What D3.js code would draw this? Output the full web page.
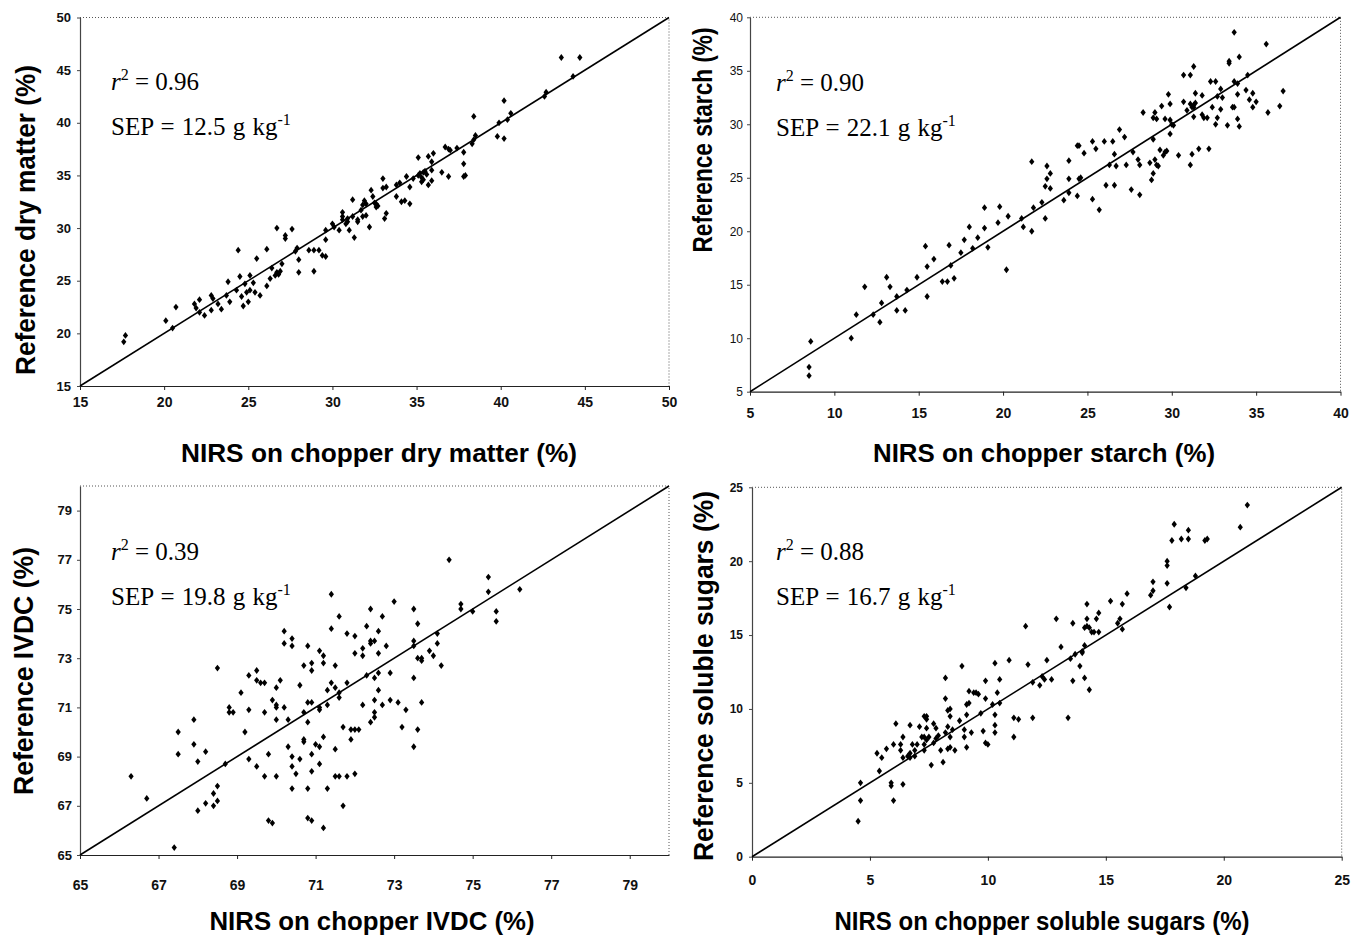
<!DOCTYPE html>
<html>
<head>
<meta charset="utf-8">
<script src="https://cdn.jsdelivr.net/npm/d3@7"></script>
<style>
    body { margin: 0; background: #fff; }
    svg { display: block; }
</style>
</head>
<body>
<svg width="1352" height="936"></svg>
<script>
// NIRS on chopper vs reference values, one array of [nirs, reference] per panel
var dryMatterPoints = [
    [17.6,19.2],[17.7,19.8],[20.1,21.2],[20.5,20.5],[20.7,22.5],[21.8,22.8],[21.9,22.4],[22.1,23.2],[22.1,22.0],[22.4,21.7],
    [22.8,23.6],[22.9,23.3],[22.8,22.2],[23.2,22.8],[23.4,22.3],[23.7,23.6],[23.8,24.9],[23.9,23.0],[24.4,27.9],[24.3,24.1],
    [24.5,25.4],[24.6,23.5],[24.7,22.6],[24.8,24.7],[24.9,23.9],[25.0,23.0],[25.1,24.1],[25.1,25.5],[25.3,24.8],[25.4,23.9],
    [25.5,27.1],[25.7,23.6],[26.1,28.0],[26.1,24.5],[26.3,25.2],[26.4,26.2],[26.6,25.5],[26.7,25.8],[26.8,25.6],[26.9,25.9],
    [26.7,30.0],[27.0,26.6],[27.2,29.3],[27.2,29.0],[27.6,29.9],[27.8,27.8],[27.9,28.1],[28.0,27.0],[28.0,25.8],[28.6,27.9],
    [28.9,27.9],[29.2,27.9],[28.9,25.9],[29.4,27.4],[29.6,29.8],[29.6,28.9],[29.6,27.3],[30.0,30.4],[30.1,30.1],[30.4,29.8],
    [30.6,31.1],[30.6,30.8],[30.8,30.4],[30.9,30.6],[31.0,29.8],[31.2,32.7],[31.3,29.1],[31.5,30.8],[31.8,32.2],[31.9,32.6],
    [32.0,32.3],[32.2,30.1],[32.3,33.6],[32.4,33.0],[32.5,32.4],[32.6,32.0],[30.6,31.5],[30.9,30.9],[31.2,31.1],[31.5,30.6],
    [31.7,31.7],[31.8,31.1],[32.0,31.2],[32.6,32.3],[32.7,32.1],[33.0,34.7],[33.0,33.8],[33.2,33.9],[33.1,30.9],[33.2,31.4],
    [33.8,33.0],[33.8,34.1],[34.0,34.3],[34.1,32.5],[34.3,32.6],[34.4,34.9],[34.6,33.9],[34.6,32.3],[34.8,34.7],[35.1,36.7],
    [35.1,35.0],[35.2,35.2],[35.3,34.8],[35.4,35.3],[35.5,35.4],[35.4,34.6],[35.6,35.1],[35.3,34.4],[35.7,36.8],[35.7,34.1],
    [35.9,35.5],[35.9,36.3],[36.0,37.1],[35.9,34.5],[36.5,35.3],[36.7,37.7],[36.9,37.5],[37.0,37.4],[36.9,34.9],[37.4,37.6],
    [37.8,37.2],[37.8,36.1],[37.9,35.0],[37.8,34.9],[38.3,38.0],[38.4,38.4],[38.5,38.8],[38.4,40.6],[39.8,38.7],[39.9,40.0],
    [40.2,42.1],[40.2,38.5],[40.4,40.3],[40.6,40.9],[42.6,42.5],[42.7,42.9],[43.6,46.2],[44.3,44.4],[44.7,46.2]
];

var starchPoints = [
    [8.6,9.7],[8.5,7.3],[8.5,6.5],[11.0,10.0],[11.3,12.2],[11.8,14.8],[12.3,12.2],[12.7,11.5],[12.8,13.3],[13.1,15.7],
    [13.3,14.8],[13.7,13.9],[13.7,12.6],[14.2,12.6],[14.3,14.5],[14.9,15.7],[15.4,18.6],[15.5,13.9],[15.5,16.7],[15.9,17.4],
    [16.4,15.3],[16.7,15.3],[16.8,18.7],[16.9,16.8],[17.1,15.6],[17.5,18.0],[17.7,19.2],[18.0,20.4],[18.2,18.4],[18.5,19.4],
    [18.9,22.2],[18.9,20.3],[19.1,18.5],[19.7,20.8],[19.8,22.3],[20.2,16.4],[20.3,21.4],[21.1,21.2],[21.2,20.4],[21.7,20.0],
    [21.7,26.5],[21.8,22.2],[22.3,22.7],[22.5,21.2],[22.5,24.2],[22.6,26.1],[22.6,24.9],[22.8,25.4],[22.8,24.0],[23.6,22.9],
    [23.9,23.6],[23.9,26.6],[23.9,24.9],[24.4,28.0],[24.5,28.0],[24.4,23.3],[24.5,24.9],[24.6,25.0],[24.8,27.3],[25.3,28.4],
    [25.3,23.0],[25.5,27.7],[25.7,22.0],[26.0,28.4],[26.5,28.4],[26.1,24.3],[26.3,26.2],[26.6,27.2],[26.6,24.3],[26.7,26.1],
    [26.9,29.5],[27.2,28.8],[27.3,26.2],[27.6,23.9],[27.7,27.4],[28.0,26.7],[28.1,23.4],[28.1,26.2],[28.3,31.1],[28.7,26.4],
    [28.8,24.8],[28.9,30.6],[28.9,25.4],[28.9,28.6],[29.0,26.7],[29.0,31.1],[29.1,30.5],[29.1,26.2],[29.2,26.1],[29.3,27.6],
    [29.4,31.7],[29.5,27.1],[29.6,27.4],[29.7,27.5],[29.6,30.5],[29.8,32.8],[29.9,29.1],[29.9,30.4],[30.0,30.0],[29.9,31.9],
    [30.1,29.9],[30.4,27.1],[30.7,34.6],[31.1,34.6],[30.7,32.1],[30.9,31.3],[31.1,31.9],[31.2,31.6],[31.3,31.8],[31.4,32.0],
    [31.3,31.6],[31.1,26.2],[31.2,27.2],[31.3,30.7],[31.3,35.4],[31.4,32.9],[31.6,27.7],[31.8,32.7],[31.8,30.9],[31.9,30.6],
    [32.1,30.6],[32.2,27.7],[32.3,34.0],[32.6,34.0],[32.4,31.6],[32.6,30.0],[32.7,30.6],[32.7,32.6],[32.9,31.4],[32.9,33.3],
    [33.0,32.5],[33.3,29.9],[33.4,35.7],[33.4,35.9],[33.6,31.6],[33.7,31.6],[33.7,38.6],[33.7,34.0],[33.9,33.8],[33.9,32.8],
    [33.9,30.5],[34.0,29.8],[34.0,36.3],[34.4,33.2],[34.5,34.6],[34.6,32.3],[34.8,32.9],[34.8,31.6],[35.0,32.1],[35.6,37.5],
    [35.7,31.1],[36.4,31.7],[36.6,33.1]
];

var ivdcPoints = [
    [66.3,68.2],[66.7,67.3],[67.4,65.3],[67.5,70.0],[67.5,69.1],[67.9,70.5],[67.9,69.5],[68.0,66.8],[68.0,68.8],[68.2,67.1],
    [68.2,69.2],[68.4,67.5],[68.4,67.0],[68.5,67.8],[68.5,67.2],[68.5,72.6],[68.7,68.7],[68.8,71.0],[68.8,70.8],[68.9,70.8],
    [69.1,71.6],[69.2,70.0],[69.3,72.3],[69.3,70.9],[69.3,68.9],[69.5,72.5],[69.5,72.1],[69.5,68.6],[69.6,72.0],[69.7,72.0],
    [69.7,70.8],[69.7,68.2],[69.8,66.4],[69.8,69.1],[69.9,71.3],[69.9,66.3],[70.0,70.5],[70.0,71.0],[70.0,71.1],[70.0,71.8],
    [70.0,68.2],[70.1,72.1],[70.2,71.0],[70.2,74.1],[70.2,73.6],[70.3,69.4],[70.3,70.5],[70.4,73.8],[70.4,73.5],[70.4,67.7],
    [70.4,69.0],[70.4,68.6],[70.5,68.3],[70.6,71.9],[70.6,68.9],[70.7,69.6],[70.7,69.7],[70.7,72.7],[70.7,70.8],[70.8,71.2],
    [70.8,70.4],[70.8,67.7],[70.8,66.5],[70.8,73.5],[70.9,69.1],[70.9,68.4],[70.9,66.4],[70.9,72.5],[70.9,72.8],[70.9,71.2],
    [71.0,69.5],[71.1,69.4],[71.1,68.7],[71.1,70.9],[71.1,73.3],[71.1,71.0],[71.2,66.1],[71.2,72.8],[71.2,69.8],[71.2,73.1],
    [71.3,67.7],[71.3,71.1],[71.3,71.7],[71.4,75.6],[71.4,74.2],[71.4,72.0],[71.5,72.7],[71.5,71.8],[71.5,68.2],[71.6,68.2],
    [71.5,69.3],[71.6,71.6],[71.6,71.4],[71.6,74.7],[71.7,67.0],[71.7,70.2],[71.8,74.0],[71.8,68.2],[71.8,72.0],[71.9,69.7],
    [71.9,70.1],[72.0,70.1],[72.0,73.2],[72.0,73.9],[72.0,68.3],[72.1,70.1],[72.2,71.1],[72.2,73.4],[72.2,73.1],[72.3,74.3],
    [72.3,72.3],[72.4,75.0],[72.4,73.7],[72.5,73.7],[72.4,73.6],[72.5,71.3],[72.5,72.2],[72.5,70.8],[72.4,70.4],[72.5,70.6],
    [72.6,72.4],[72.6,74.1],[72.6,73.2],[72.6,71.7],[72.7,74.7],[72.7,71.1],[72.8,73.5],[72.9,72.4],[72.9,71.3],[73.0,75.3],
    [73.1,71.2],[73.2,70.2],[73.3,70.9],[73.5,75.0],[73.5,73.7],[73.5,73.5],[73.5,72.2],[73.5,69.4],[73.6,74.4],[73.6,73.0],
    [73.7,73.0],[73.7,72.9],[73.6,70.1],[73.7,71.2],[73.9,73.3],[74.0,73.1],[74.1,73.6],[74.1,74.0],[74.2,72.7],[74.4,77.0],
    [74.7,75.2],[74.7,75.0],[75.0,74.9],[75.4,76.3],[75.4,75.7],[75.6,74.9],[75.6,74.5],[76.2,75.8]
];

var sugarsPoints = [
    [4.5,2.4],[4.6,3.8],[4.6,5.0],[5.4,5.8],[5.3,7.0],[5.5,6.7],[5.7,7.3],[5.9,4.8],[5.9,5.0],[6.0,7.6],
    [6.0,3.8],[6.1,9.0],[6.3,7.6],[6.3,7.2],[6.4,8.1],[6.4,4.9],[6.4,6.7],[6.6,6.8],[6.7,7.0],[6.7,6.7],
    [6.8,7.6],[6.7,8.9],[6.9,6.8],[6.9,7.2],[7.0,7.6],[7.1,8.8],[7.2,8.1],[7.3,8.1],[7.3,9.5],[7.4,9.5],
    [7.4,9.3],[7.3,7.2],[7.3,7.6],[7.4,7.9],[7.5,8.1],[7.4,8.7],[7.6,6.2],[7.7,7.7],[7.8,8.0],[7.7,9.0],
    [7.8,8.7],[7.9,8.2],[8.0,7.2],[8.1,6.4],[8.2,8.4],[8.2,12.1],[8.2,10.7],[8.3,7.3],[8.4,7.4],[8.3,9.9],
    [8.4,10.0],[8.3,8.8],[8.4,9.5],[8.4,8.1],[8.5,8.6],[8.6,7.2],[8.8,9.2],[8.9,12.9],[9.0,8.6],[9.0,8.1],
    [9.1,9.6],[9.1,10.3],[9.2,10.4],[9.1,7.4],[9.2,11.2],[9.3,8.4],[9.4,11.1],[9.5,11.1],[9.6,11.0],[9.7,9.7],
    [9.8,8.5],[9.9,11.9],[9.9,10.7],[9.9,7.7],[10.0,7.6],[10.2,10.3],[10.3,13.1],[10.3,9.6],[10.3,8.9],[10.3,8.4],
    [10.4,11.1],[10.5,12.0],[10.5,10.4],[10.9,13.3],[11.1,8.1],[11.1,9.4],[11.3,9.3],[11.6,15.6],[11.7,13.0],[11.9,11.8],
    [11.9,9.4],[12.3,12.2],[12.4,12.0],[12.2,11.6],[12.5,13.3],[12.7,12.0],[12.9,16.1],[13.1,14.2],[13.4,9.4],[13.5,13.4],
    [13.6,15.8],[13.6,11.9],[13.7,13.7],[13.9,12.9],[14.0,13.8],[14.0,13.9],[14.1,14.3],[14.1,15.5],[14.2,15.6],[14.3,15.5],
    [14.1,12.1],[14.2,17.1],[14.2,16.1],[14.3,11.3],[14.4,15.2],[14.5,15.2],[14.7,15.2],[14.6,16.1],[14.7,16.5],[15.2,17.3],
    [15.5,15.8],[15.6,16.1],[15.7,17.1],[15.7,15.4],[15.9,17.8],[16.9,17.7],[17.0,18.0],[17.0,18.6],[17.6,20.0],[17.6,19.7],
    [17.6,18.5],[17.7,16.9],[17.8,21.4],[17.9,22.5],[18.2,21.5],[18.4,18.2],[18.5,22.1],[18.5,21.5],[18.8,19.0],[19.2,21.4],
    [19.3,21.5],[20.7,22.3],[21.0,23.8]
];

var dryMatterTicks = [15, 20, 25, 30, 35, 40, 45, 50];
var starchTicks = [5, 10, 15, 20, 25, 30, 35, 40];
var ivdcTicks = [65, 67, 69, 71, 73, 75, 77, 79];
var sugarsTicks = [0, 5, 10, 15, 20, 25];

var panelStats = [
    {r2: "0.96", sep: "12.5"},
    {r2: "0.90", sep: "22.1"},
    {r2: "0.39", sep: "19.8"},
    {r2: "0.88", sep: "16.7"}
];

var panelNames = ["dry matter", "starch", "IVDC", "soluble sugars"];

////////////////////////////////////////////////////////////////////////////
var svg = d3.select("svg");
var sansFont = "'Liberation Sans', Arial, Helvetica, sans-serif",
    serifFont = "'Liberation Serif', 'Times New Roman', serif";

// xTitle: [centre x, baseline y, length]; yTitle: [baseline x, centre y, length]
var layouts = [
    {points: dryMatterPoints, ticks: dryMatterTicks, domain: [15, 50], xr: [80, 669], yr: [386, 17.5],
        xTitle: [379, 462, 396], yTitle: [35, 220, 310], note: [111, 90], yBold: true, yFont: 13, xPad: 7, yPad: 6},
    {points: starchPoints, ticks: starchTicks, domain: [5, 40], xr: [750, 1340.5], yr: [391.7, 17.3],
        xTitle: [1044, 462, 342], yTitle: [712, 140, 225], note: [776, 91], yBold: false, yFont: 12, xPad: 12, yPad: 4},
    {points: ivdcPoints, ticks: ivdcTicks, domain: [65, 80], xr: [80, 669], yr: [855, 486],
        xTitle: [372, 930, 325], yTitle: [33, 671, 248], note: [111, 560], yBold: true, yFont: 13, xPad: 21, yPad: 5},
    {points: sugarsPoints, ticks: sugarsTicks, domain: [0, 25], xr: [752, 1341.7], yr: [856.7, 487.3],
        xTitle: [1042, 930, 415], yTitle: [713, 676, 370], note: [776, 560], yBold: true, yFont: 12, xPad: 14, yPad: 6}
];

var diamondType = {
    draw: function (ctx, size) {
        var w = Math.sqrt(size) * 0.62, h = Math.sqrt(size) * 0.8;
        ctx.moveTo(0, -h);
        ctx.lineTo(w, 0);
        ctx.lineTo(0, h);
        ctx.lineTo(-w, 0);
        ctx.closePath();
    }
};
var diamond = d3.symbol().type(diamondType).size(18);

function drawPanel(lay, i) {
    var scaleX = d3.scaleLinear().domain(lay.domain).range(lay.xr),
        scaleY = d3.scaleLinear().domain(lay.domain).range(lay.yr);
    var g = svg.append("g").attr("class", "panel");

    // dotted top and right frame
    g.append("path")
        .attr("d", "M" + lay.xr[0] + "," + lay.yr[1] + "H" + lay.xr[1] + "V" + lay.yr[0])
        .attr("fill", "none")
        .attr("stroke", "#555")
        .attr("stroke-width", 1)
        .attr("stroke-dasharray", "1,2");

    var axisX = g.append("g")
        .attr("transform", "translate(0," + lay.yr[0] + ")")
        .call(d3.axisBottom(scaleX).tickValues(lay.ticks).tickSize(4).tickPadding(lay.xPad).tickSizeOuter(0));
    var axisY = g.append("g")
        .attr("transform", "translate(" + lay.xr[0] + ",0)")
        .call(d3.axisLeft(scaleY).tickValues(lay.ticks).tickSize(3).tickPadding(lay.yPad).tickSizeOuter(0));

    axisX.select(".domain").attr("stroke", "#222").attr("stroke-width", 1.2);
    axisY.select(".domain").attr("stroke", "#444").attr("stroke-width", 1.2);
    axisX.selectAll(".tick line").attr("stroke", "#222");
    axisY.selectAll(".tick line").attr("stroke", "#444");
    axisX.selectAll("text")
        .style("font-family", sansFont).style("font-size", "14px").style("font-weight", "bold").attr("fill", "#111");
    axisY.selectAll("text")
        .style("font-family", sansFont).style("font-size", lay.yFont + "px")
        .style("font-weight", lay.yBold ? "bold" : "normal").attr("fill", "#111");

    // 1:1 line
    var line = d3.line()
        .x(function (d) { return scaleX(d); })
        .y(function (d) { return scaleY(d); });
    g.append("path")
        .datum(lay.domain)
        .attr("d", line)
        .attr("fill", "none")
        .attr("stroke", "#000")
        .attr("stroke-width", 1.6);

    g.selectAll(".dot")
        .data(lay.points)
        .enter().append("path")
        .attr("class", "dot")
        .attr("d", diamond)
        .attr("transform", function (d) {
            return "translate(" + scaleX(d[0]) + "," + scaleY(d[1]) + ")";
        })
        .attr("fill", "#000");

    // axis titles
    g.append("text")
        .attr("x", lay.xTitle[0]).attr("y", lay.xTitle[1])
        .attr("text-anchor", "middle")
        .attr("textLength", lay.xTitle[2])
        .attr("lengthAdjust", "spacingAndGlyphs")
        .style("font-family", sansFont).style("font-size", "25px").style("font-weight", "bold")
        .text("NIRS on chopper " + panelNames[i] + " (%)");
    g.append("text")
        .attr("transform", "translate(" + lay.yTitle[0] + "," + lay.yTitle[1] + ") scale(1.1,1) rotate(-90)")
        .attr("text-anchor", "middle")
        .attr("textLength", lay.yTitle[2])
        .attr("lengthAdjust", "spacingAndGlyphs")
        .style("font-family", sansFont).style("font-size", "25px").style("font-weight", "bold")
        .text("Reference " + panelNames[i] + " (%)");

    // statistics
    var st = panelStats[i];
    var t1 = g.append("text")
        .attr("x", lay.note[0]).attr("y", lay.note[1])
        .style("font-family", serifFont).style("font-size", "25px");
    t1.append("tspan").style("font-style", "italic").text("r");
    t1.append("tspan").attr("dy", -10).style("font-size", "16px").text("2");
    t1.append("tspan").attr("dy", 10).text(" = " + st.r2);

    var t2 = g.append("text")
        .attr("x", lay.note[0]).attr("y", lay.note[1] + 45)
        .style("font-family", serifFont).style("font-size", "25px")
        .style("word-spacing", "1px");
    t2.append("tspan").text("SEP = " + st.sep + " g kg");
    t2.append("tspan").attr("dy", -10).style("font-size", "16px").text("-1");
}

layouts.forEach(drawPanel);
</script>
</body>
</html>
